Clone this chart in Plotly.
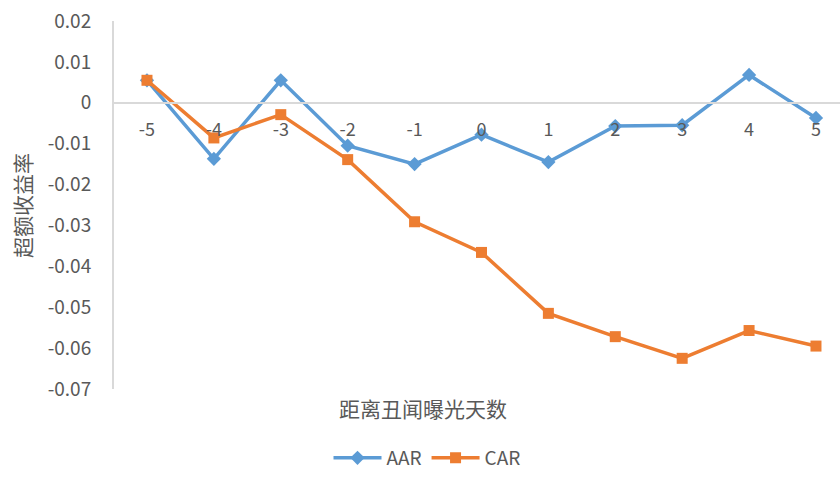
import plotly.graph_objects as go

# Event window (days relative to the scandal announcement)
days = ["-5", "-4", "-3", "-2", "-1", "0", "1", "2", "3", "4", "5"]

# Average abnormal return and cumulative abnormal return
aar = [0.0055, -0.0137, 0.0055, -0.0105, -0.0150, -0.0078, -0.0145, -0.0057, -0.0055, 0.0068, -0.0037]
car = [0.0055, -0.0086, -0.0029, -0.0139, -0.0291, -0.0366, -0.0515, -0.0572, -0.0625, -0.0557, -0.0595]

y_ticks = [0.02, 0.01, 0, -0.01, -0.02, -0.03, -0.04, -0.05, -0.06, -0.07]
y_tick_text = ["0.02", "0.01", "0", "-0.01", "-0.02", "-0.03", "-0.04", "-0.05", "-0.06", "-0.07"]

BLUE = "#5B9BD5"
ORANGE = "#ED7D31"
TEXT = "#595959"
AXIS = "#D9D9D9"
FONT = "Noto Sans CJK SC"

y_min, y_max = -0.07, 0.02

fig = go.Figure()
fig.add_trace(go.Scatter(
    x=days, y=aar, name="AAR", mode="lines+markers",
    line=dict(color=BLUE, width=3.5),
    marker=dict(symbol="diamond", size=11, color=BLUE),
))
fig.add_trace(go.Scatter(
    x=days, y=car, name="CAR", mode="lines+markers",
    line=dict(color=ORANGE, width=3.5),
    marker=dict(symbol="square", size=11, color=ORANGE),
))

fig.update_layout(
    width=840, height=477,
    margin=dict(l=114, r=0, t=21, b=88, autoexpand=False),
    paper_bgcolor="white", plot_bgcolor="white",
    font=dict(family=FONT, color=TEXT, size=18),
    showlegend=True,
    legend=dict(
        orientation="h", x=(427 - 114) / 726, xanchor="center",
        yref="container", y=0.0, yanchor="bottom",
        font=dict(size=19, color=TEXT), itemwidth=48,
    ),
    xaxis=dict(
        type="category", range=[-0.493, 10.359],
        anchor="free", position=(0 - y_min) / (y_max - y_min),
        showline=True, linecolor=AXIS, linewidth=2,
        showgrid=False, zeroline=False, ticks="",
        ticklabelstandoff=11,
        tickfont=dict(size=18, color=TEXT),
    ),
    yaxis=dict(
        range=[y_min, y_max],
        tickmode="array", tickvals=y_ticks, ticktext=y_tick_text,
        showgrid=False, zeroline=False,
        showline=True, linecolor=AXIS, linewidth=2,
        ticks="", ticklabelstandoff=17,
        tickfont=dict(size=19, color=TEXT),
    ),
    annotations=[
        dict(text="距离丑闻曝光天数", xref="paper", yref="paper",
             x=(423 - 114) / 726, y=(389 - 408) / 368,
             xanchor="center", yanchor="middle", showarrow=False,
             font=dict(size=21, color=TEXT, family=FONT)),
        dict(text="超额收益率", xref="paper", yref="paper",
             x=(22 - 114) / 726, y=(389 - 206) / 368, textangle=-90,
             xanchor="center", yanchor="middle", showarrow=False,
             font=dict(size=21, color=TEXT, family=FONT)),
    ],
)

fig.write_html("out.html")
